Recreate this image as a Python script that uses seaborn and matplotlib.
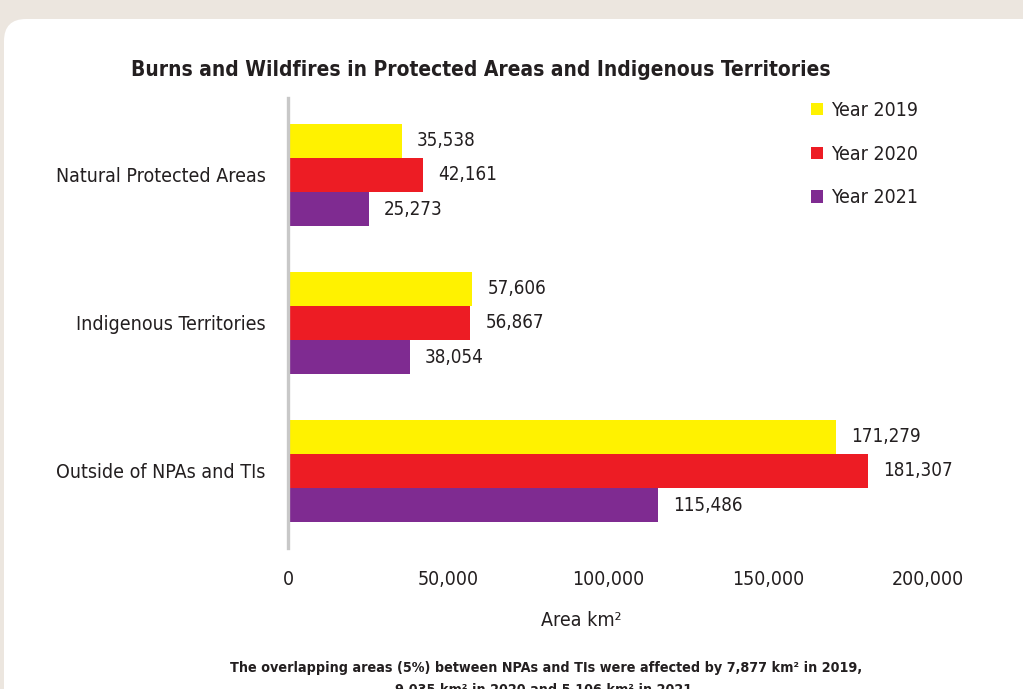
import matplotlib
matplotlib.use("Agg")
import matplotlib.pyplot as plt
import matplotlib.patches as mpatches
import matplotlib.transforms as mtransforms
import seaborn as sns
import pandas as pd

# --- data -------------------------------------------------------------
categories = ["Natural Protected Areas", "Indigenous Territories", "Outside of NPAs and TIs"]
years = ["Year 2019", "Year 2020", "Year 2021"]
area_2019 = [35538, 57606, 171279]
area_2020 = [42161, 56867, 181307]
area_2021 = [25273, 38054, 115486]
x_ticks = [0, 50000, 100000, 150000, 200000]
x_tick_labels = ["0", "50,000", "100,000", "150,000", "200,000"]

colors = ["#fff200", "#ed1c24", "#7f2b91"]
text_color = "#231f20"

df = pd.DataFrame({
    "category": categories * 3,
    "year": [years[0]] * 3 + [years[1]] * 3 + [years[2]] * 3,
    "area": area_2019 + area_2020 + area_2021,
})

sns.set_theme(style="white")
plt.rcParams["font.family"] = ["DejaVu Sans"]
plt.rcParams["font.stretch"] = "condensed"
plt.rcParams["text.color"] = text_color

W, H = 1023, 689
fig = plt.figure(figsize=(W / 100, H / 100), dpi=100, facecolor="#ece6df")

# white rounded card behind the chart
card = mpatches.FancyBboxPatch((4, -60), 1100, H - 19 + 60,
                               boxstyle="round,pad=0,rounding_size=22",
                               transform=mtransforms.IdentityTransform(),
                               facecolor="white", edgecolor="none", zorder=-5)
fig.patches.append(card)

ax = fig.add_axes([288 / W, 1 - 545 / H, (928 - 288) / W, (545 - 101) / H])
ax.set_facecolor("none")
ax.set_zorder(2)

sns.barplot(data=df, x="area", y="category", hue="year", orient="h",
            palette=colors, width=0.69, saturation=1, linewidth=0,
            ax=ax, legend=True)

for cont in ax.containers:
    vals = cont.datavalues
    ax.bar_label(cont, labels=[f"{v:,.0f}" for v in vals], padding=11,
                 fontsize=13.5, color=text_color)

ax.set_xlim(0, 200000)
ax.set_ylim(2.5, -0.5)
ax.set_xticks(x_ticks)
ax.set_xticklabels(x_tick_labels)
ax.tick_params(axis="x", length=0, pad=18, labelsize=14, labelcolor=text_color)
ax.tick_params(axis="y", length=0, pad=16, labelsize=14, labelcolor=text_color)
ax.set_xlabel("")
ax.set_ylabel("")
for s in ["top", "right", "bottom"]:
    ax.spines[s].set_visible(False)
ax.spines["left"].set_color("#c8c8c8")
ax.spines["left"].set_linewidth(2.4)
ax.spines["left"].set_bounds(2.52, -0.52)

handles, labels = ax.get_legend_handles_labels()
ax.legend(handles, labels, loc="upper left",
          bbox_to_anchor=(811 / W, 1 - 101 / H), bbox_transform=fig.transFigure,
          frameon=False, fontsize=14, handlelength=0.6, handleheight=0.6,
          handletextpad=0.45, labelspacing=1.27, borderpad=0, borderaxespad=0)

fig.text(481 / W, 1 - 70 / H,
         "Burns and Wildfires in Protected Areas and Indigenous Territories",
         ha="center", va="center", fontsize=15, fontweight="bold", color=text_color)
fig.text(581 / W, 1 - 621 / H, "Area km²", ha="center", va="center",
         fontsize=14, color=text_color)
fig.text(546 / W, 1 - 668 / H,
         "The overlapping areas (5%) between NPAs and TIs were affected by 7,877 km² in 2019,",
         ha="center", va="center", fontsize=10.3, fontweight="bold", color=text_color)
fig.text(546 / W, 1 - 690 / H,
         "9,035 km² in 2020 and 5,106 km² in 2021.",
         ha="center", va="center", fontsize=10.3, fontweight="bold", color=text_color)

fig.savefig("out.png", dpi=100)
